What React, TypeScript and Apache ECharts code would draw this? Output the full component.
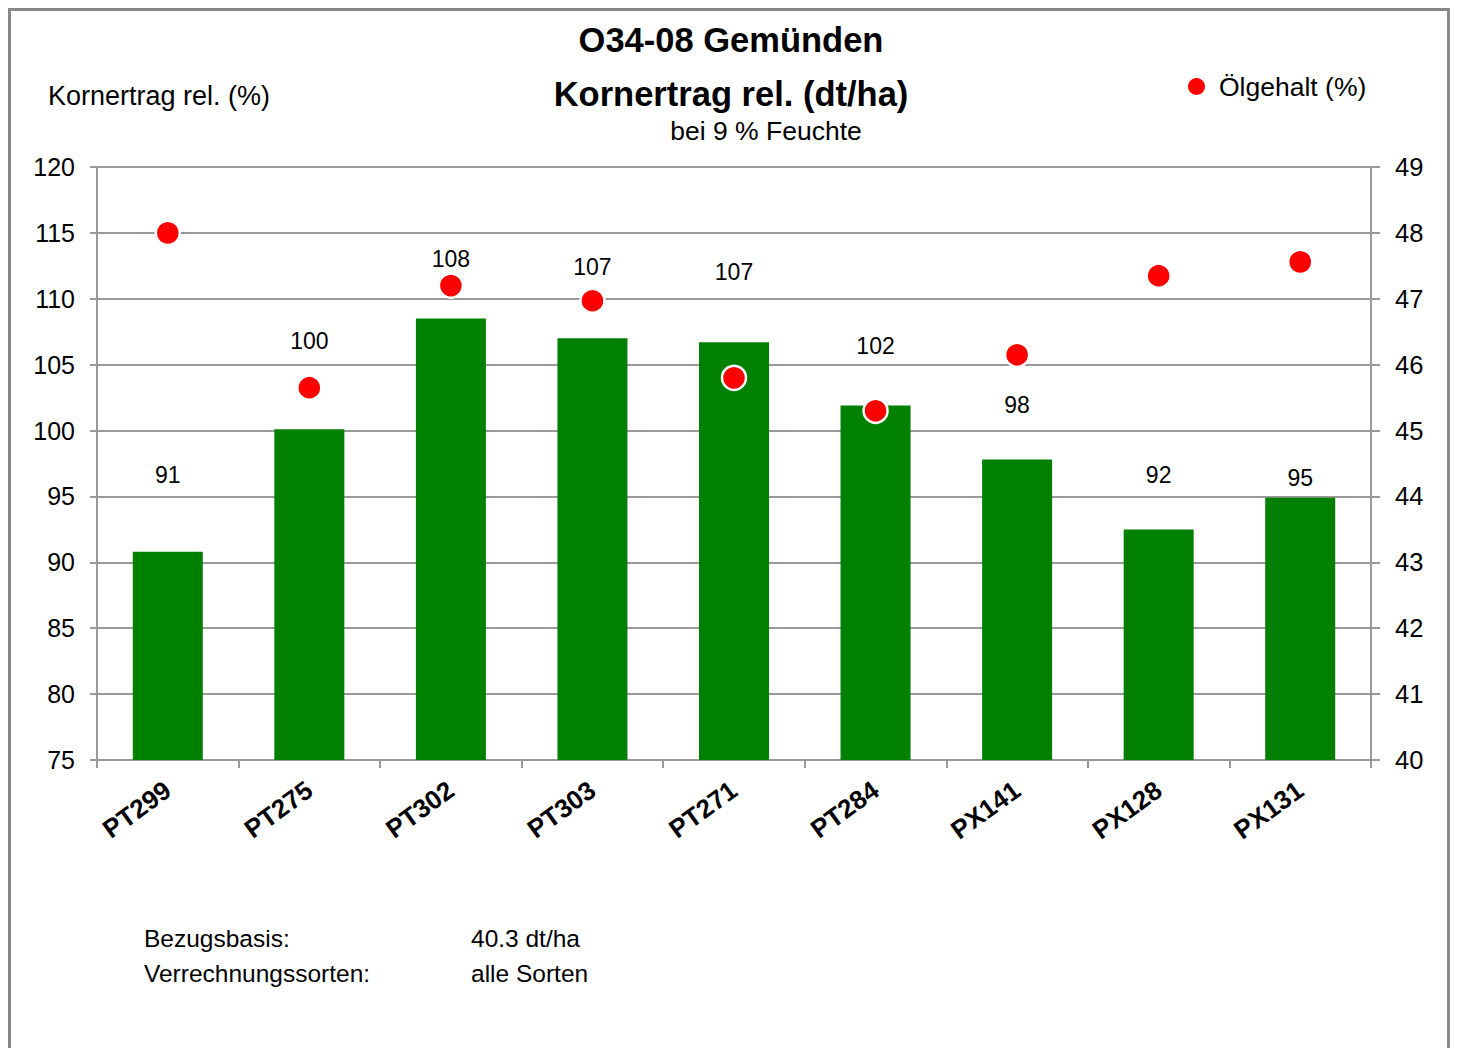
import React, { useEffect, useRef } from "react";
import * as echarts from "echarts";

const categories = ["PT299", "PT275", "PT302", "PT303", "PT271", "PT284", "PX141", "PX128", "PX131"];
const yieldRel = [90.8, 100.1, 108.5, 107.0, 106.7, 101.9, 97.8, 92.5, 94.9];
const yieldLabels = ["91", "100", "108", "107", "107", "102", "98", "92", "95"];
const oilContent = [48.0, 45.65, 47.2, 46.97, 45.8, 45.3, 46.15, 47.35, 47.56];
const leftTicks = { min: 75, max: 120, interval: 5 };
const rightTicks = { min: 40, max: 49, interval: 1 };
const labelLift = [65, 77, 48, 60, 59, 48, 43, 43, 8];

const FONT = "'Liberation Sans', Arial, Helvetica, sans-serif";
const GRID = "#999999";

export default function App() {
  const ref = useRef<HTMLDivElement>(null);
  useEffect(() => {
    if (!ref.current) return;
    const chart = echarts.init(ref.current, null, { renderer: "svg" });
    chart.setOption({
      animation: false,
      backgroundColor: "#ffffff",
      textStyle: { fontFamily: FONT },
      grid: { left: 89, top: 159, width: 1274, height: 593, containLabel: false },
      legend: {
        data: [{ name: "Ölgehalt (%)", icon: "circle" }],
        left: 1175,
        top: 60,
        itemWidth: 17,
        itemHeight: 17,
        itemStyle: { borderWidth: 0, opacity: 1 },
        textStyle: { fontFamily: FONT, fontSize: 26.5, color: "#000", padding: [8, 0, 0, 9] },
      },
      xAxis: {
        type: "category",
        data: categories,
        boundaryGap: true,
        axisLine: { lineStyle: { color: GRID, width: 2 } },
        axisTick: { show: true, length: 8, lineStyle: { color: GRID, width: 2 }, alignWithLabel: false },
        axisLabel: {
          rotate: 36,
          margin: 27,
          fontFamily: FONT,
          fontSize: 26,
          fontWeight: "bold",
          color: "#000",
          interval: 0,
        },
      },
      yAxis: [
        {
          type: "value",
          ...leftTicks,
          axisLine: { show: true, lineStyle: { color: GRID, width: 2 } },
          axisTick: { show: true, length: 7, lineStyle: { color: GRID, width: 2 } },
          splitLine: { show: true, lineStyle: { color: GRID, width: 2 } },
          axisLabel: { fontFamily: FONT, fontSize: 25, color: "#000", margin: 22 },
        },
        {
          type: "value",
          position: "right",
          ...rightTicks,
          axisLine: { show: true, lineStyle: { color: GRID, width: 2 } },
          axisTick: { show: true, length: 9, lineStyle: { color: GRID, width: 2 } },
          splitLine: { show: false },
          axisLabel: { fontFamily: FONT, fontSize: 25.5, color: "#000", margin: 24 },
        },
      ],
      series: [
        {
          name: "Kornertrag rel. (%)",
          type: "bar",
          yAxisIndex: 0,
          barWidth: 70,
          itemStyle: { color: "#008000" },
          data: yieldRel.map((v, i) => ({
            value: v,
            label: {
              show: true,
              position: "top",
              distance: 0,
              offset: [0, -labelLift[i]],
              formatter: yieldLabels[i],
              fontFamily: FONT,
              fontSize: 23,
              color: "#000",
            },
          })),
          z: 2,
        },
        {
          name: "Ölgehalt (%)",
          type: "scatter",
          yAxisIndex: 1,
          symbol: "circle",
          symbolSize: 24,
          itemStyle: { color: "#ff0000", borderColor: "#ffffff", borderWidth: 2.5, opacity: 1 },
          emphasis: { disabled: true },
          data: oilContent,
          z: 5,
        },
      ],
      graphic: [
        {
          type: "rect",
          shape: { x: 1.5, y: 1.5, width: 1439, height: 1100 },
          style: { fill: "none", stroke: "#888888", lineWidth: 3 },
          silent: true,
        },
        {
          type: "text",
          x: 723,
          y: 32,
          style: { text: "O34-08 Gemünden", font: `bold 34.5px ${FONT}`, fill: "#000", textAlign: "center", textVerticalAlign: "middle" },
        },
        {
          type: "text",
          x: 723,
          y: 86,
          style: { text: "Kornertrag rel. (dt/ha)", font: `bold 34.5px ${FONT}`, fill: "#000", textAlign: "center", textVerticalAlign: "middle" },
        },
        {
          type: "text",
          x: 758,
          y: 123,
          style: { text: "bei 9 % Feuchte", font: `26.5px ${FONT}`, fill: "#000", textAlign: "center", textVerticalAlign: "middle" },
        },
        {
          type: "text",
          x: 40,
          y: 88,
          style: { text: "Kornertrag rel. (%)", font: `27px ${FONT}`, fill: "#000", textAlign: "left", textVerticalAlign: "middle" },
        },
        {
          type: "text",
          x: 136,
          y: 930,
          style: { text: "Bezugsbasis:", font: `24.5px ${FONT}`, fill: "#000", textAlign: "left", textVerticalAlign: "middle" },
        },
        {
          type: "text",
          x: 136,
          y: 965,
          style: { text: "Verrechnungssorten:", font: `24.5px ${FONT}`, fill: "#000", textAlign: "left", textVerticalAlign: "middle" },
        },
        {
          type: "text",
          x: 463,
          y: 930,
          style: { text: "40.3 dt/ha", font: `24.5px ${FONT}`, fill: "#000", textAlign: "left", textVerticalAlign: "middle" },
        },
        {
          type: "text",
          x: 463,
          y: 965,
          style: { text: "alle Sorten", font: `24.5px ${FONT}`, fill: "#000", textAlign: "left", textVerticalAlign: "middle" },
        },
      ],
    });
    return () => chart.dispose();
  }, []);
  return (
    <div
      ref={ref}
      style={{ position: "absolute", left: 8, top: 8, width: 1444, height: 1040 }}
    />
  );
}
